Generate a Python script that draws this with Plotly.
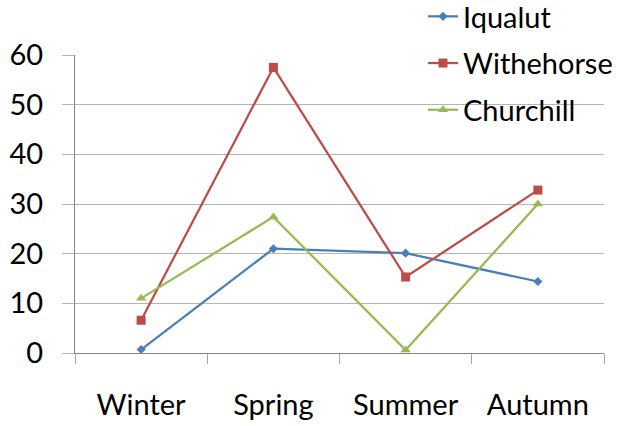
import plotly.graph_objects as go

seasons = ["Winter", "Spring", "Summer", "Autumn"]
iqualut = [0.7, 21.0, 20.1, 14.4]
withehorse = [6.6, 57.5, 15.3, 32.8]
churchill = [11.0, 27.4, 0.6, 30.0]

series = [
    ("Iqualut", iqualut, "#4A7EBB", "diamond", 7),
    ("Withehorse", withehorse, "#BE4B48", "square", 9),
    ("Churchill", churchill, "#98B954", "triangle-up", 9),
]

FONT = "Lato, 'Open Sans', sans-serif"
FS = 29

fig = go.Figure()
for i, (name, vals, color, symbol, size) in enumerate(series):
    fig.add_trace(go.Scatter(
        x=seasons, y=vals, name=name, mode="lines+markers",
        line=dict(color=color, width=2.25),
        marker=dict(symbol=symbol, size=size, color=color),
        legendgroup=str(i),
    ))

fig.update_layout(
    width=619, height=426,
    margin=dict(l=75, r=15, t=55, b=73, autoexpand=False),
    paper_bgcolor="white", plot_bgcolor="white",
    font=dict(family=FONT, size=FS, color="black"),
    showlegend=True,
    legend=dict(
        x=(423 - 75) / 529, xanchor="left", y=1 + 64 / 298, yanchor="top",
        font=dict(size=FS), itemwidth=30, tracegroupgap=6,
        bgcolor="rgba(0,0,0,0)",
    ),
    xaxis=dict(
        type="category", range=[-0.5, 3.5], tickson="boundaries",
        showgrid=False, showline=True, linecolor="#868686", linewidth=1,
        ticks="outside", ticklen=10, tickcolor="#A6A6A6",
        ticklabelstandoff=26, tickfont=dict(size=FS),
    ),
    yaxis=dict(
        range=[0, 60], dtick=10, showgrid=True, gridcolor="#B5B5B5", gridwidth=1,
        showline=True, linecolor="#868686", linewidth=1,
        ticks="outside", ticklen=12, tickcolor="#B5B5B5",
        ticklabelstandoff=13, tickfont=dict(size=FS), zeroline=False,
    ),
)

fig.write_html("out.html")
